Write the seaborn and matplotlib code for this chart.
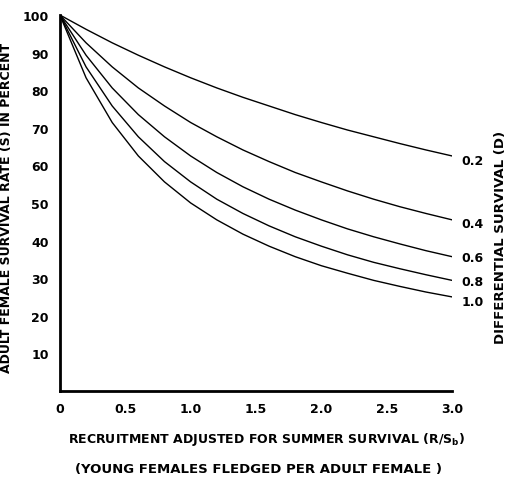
import matplotlib
matplotlib.use("Agg")
import matplotlib.pyplot as plt
import pandas as pd
import seaborn as sns

recruitment = [0.0, 0.2, 0.4, 0.6, 0.8, 1.0, 1.2, 1.4, 1.6, 1.8,
               2.0, 2.2, 2.4, 2.6, 2.8, 3.0]

# adult female survival (%) for each differential survival D
surv_02 = [100, 96.2, 92.6, 89.3, 86.2, 83.3, 80.6, 78.1, 75.8, 73.5,
           71.4, 69.4, 67.6, 65.8, 64.1, 62.5]
surv_04 = [100, 92.6, 86.2, 80.6, 75.8, 71.4, 67.6, 64.1, 61.0, 58.1,
           55.6, 53.2, 51.0, 49.0, 47.2, 45.5]
surv_06 = [100, 89.3, 80.6, 73.5, 67.6, 62.5, 58.1, 54.3, 51.0, 48.1,
           45.5, 43.1, 41.0, 39.1, 37.3, 35.7]
surv_08 = [100, 86.2, 75.8, 67.6, 61.0, 55.6, 51.0, 47.2, 43.9, 41.0,
           38.5, 36.2, 34.2, 32.5, 30.9, 29.4]
surv_10 = [100, 83.3, 71.4, 62.5, 55.6, 50.0, 45.5, 41.7, 38.5, 35.7,
           33.3, 31.3, 29.4, 27.8, 26.3, 25.0]

d_labels = ["0.2", "0.4", "0.6", "0.8", "1.0"]
label_y = [61.4, 44.4, 35.6, 29.0, 23.7]

x_ticks = [0, 0.5, 1.0, 1.5, 2.0, 2.5, 3.0]
x_ticklabels = ["0", "0.5", "1.0", "1.5", "2.0", "2.5", "3.0"]
y_ticks = [10, 20, 30, 40, 50, 60, 70, 80, 90, 100]

sns.set_style("white")
plt.rcParams["font.family"] = ["DejaVu Sans"]
plt.rcParams["font.weight"] = "bold"
plt.rcParams["text.color"] = "black"
plt.rcParams["axes.labelcolor"] = "black"
plt.rcParams["xtick.color"] = "black"
plt.rcParams["ytick.color"] = "black"

series = [surv_02, surv_04, surv_06, surv_08, surv_10]
rows = []
for d, vals in zip(d_labels, series):
    for x, y in zip(recruitment, vals):
        rows.append({"R": x, "S": y, "D": d})
df = pd.DataFrame(rows)

fig = plt.figure(figsize=(5.12, 4.85), dpi=100)
ax = fig.add_axes([0.117, 0.192, 0.766, 0.775])

sns.lineplot(data=df, x="R", y="S", hue="D",
             palette=["black"] * 5, linewidth=1.0, legend=False, ax=ax)

ax.set_xlim(0, 3.0)
ax.set_ylim(0, 100)
ax.set_xticks(x_ticks)
ax.set_xticklabels(x_ticklabels)
ax.set_yticks(y_ticks)
ax.tick_params(axis="both", direction="inout", length=4, width=1.2,
               labelsize=9, pad=6, color="black")
for lab in ax.get_xticklabels() + ax.get_yticklabels():
    lab.set_fontweight("bold")
ax.set_xlabel("")

for side in ["top", "right"]:
    ax.spines[side].set_visible(False)
for side in ["left", "bottom"]:
    ax.spines[side].set_linewidth(2.0)
    ax.spines[side].set_color("black")

# curve labels at the right end
for lab, y in zip(d_labels, label_y):
    ax.text(3.07, y, lab, fontsize=9, fontweight="bold", va="center", ha="left")

ax.set_ylabel("ADULT FEMALE SURVIVAL RATE (S) IN PERCENT",
              fontsize=9, fontweight="bold")
ax.yaxis.set_label_coords(-0.12, 0.49)

fig.text(0.978, 0.511, "DIFFERENTIAL SURVIVAL (D)", rotation=90,
         fontsize=9.5, fontweight="bold", ha="center", va="center")

fig.text(0.52, 0.093, "RECRUITMENT ADJUSTED FOR SUMMER SURVIVAL (R/S$_\\mathbf{b}$)",
         fontsize=9, fontweight="bold", ha="center", va="center")
fig.text(0.505, 0.032, "(YOUNG FEMALES FLEDGED PER ADULT FEMALE )",
         fontsize=9.5, fontweight="bold", ha="center", va="center")

plt.savefig("out.png", dpi=100)
plt.close()
